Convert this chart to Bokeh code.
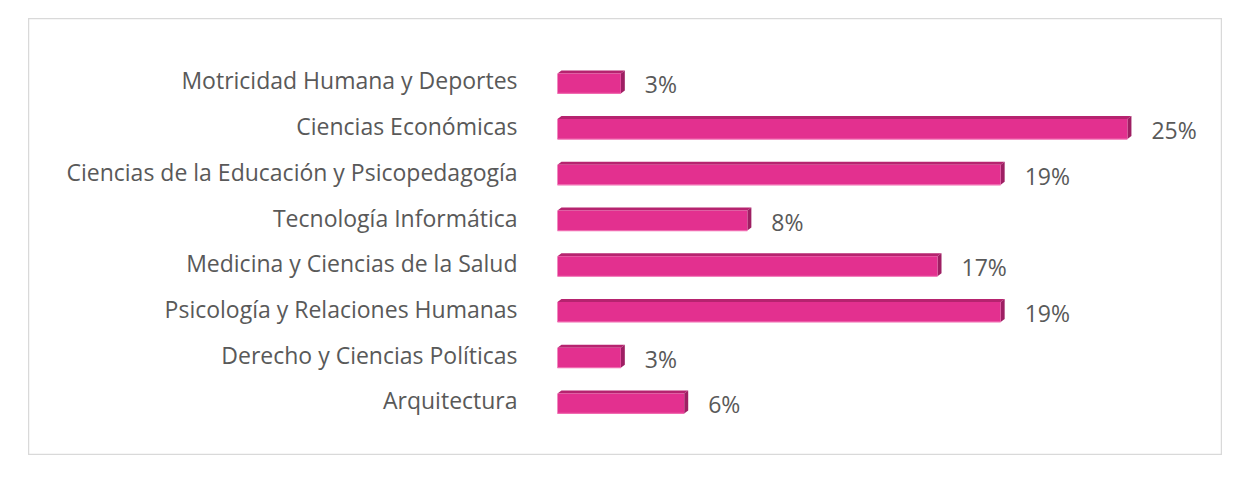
from bokeh.plotting import figure
from bokeh.models import Range1d, ColumnDataSource
from bokeh.core.properties import value
from bokeh.embed import file_html
from bokeh.resources import INLINE

# Data (bottom to top)
categories = ["Arquitectura", "Derecho y Ciencias Políticas", "Psicología y Relaciones Humanas",
              "Medicina y Ciencias de la Salud", "Tecnología Informática",
              "Ciencias de la Educación y Psicopedagogía", "Ciencias Económicas",
              "Motricidad Humana y Deportes"]
values = [5.56, 2.78, 19.44, 16.67, 8.33, 19.44, 25.0, 2.78]
value_labels = ["6%", "3%", "19%", "17%", "8%", "19%", "25%", "3%"]

FONT = "Open Sans"
TXT = "#595959"
FRONT = "#E3308F"
TOP = "#B6236F"
SIDE = "#9E1F63"
EDGE = "#F06AB0"

W, H = 1194, 437
x0, x1 = -23.2, 29.17
y0, y1 = -1.14, 8.42
pxx = W / (x1 - x0)
pxy = H / (y1 - y0)
dx = 4 / pxx
dy = 3 / pxy
bh = 20 / pxy

p = figure(width=W, height=H, output_backend="svg", toolbar_location=None,
           x_range=Range1d(x0, x1), y_range=Range1d(y0, y1),
           min_border=0, min_border_left=0, min_border_right=0,
           min_border_top=0, min_border_bottom=0)
p.margin = (18, 0, 0, 28)
p.xaxis.visible = False
p.yaxis.visible = False
p.grid.visible = False
p.outline_line_color = "#D9D9D9"
p.outline_line_width = 1.5
p.background_fill_color = "white"
p.border_fill_color = "white"

ys = list(range(len(categories)))
src = ColumnDataSource(dict(y=ys, v=values, cat=categories, lab=value_labels,
                            zero=[0] * len(ys),
                            yb=[y - bh / 2 for y in ys]))

# top faces and side faces
top_xs, top_ys, side_xs, side_ys = [], [], [], []
for y, v in zip(ys, values):
    t = y + bh / 2
    b = y - bh / 2
    top_xs.append([0, v, v + dx, dx])
    top_ys.append([t, t, t + dy, t + dy])
    side_xs.append([v, v + dx, v + dx, v])
    side_ys.append([b, b + dy, t + dy, t])
p.patches(top_xs, top_ys, fill_color=TOP, line_color=None)
p.patches(side_xs, side_ys, fill_color=SIDE, line_color=None)
p.hbar(y="y", left="zero", right="v", height=bh, source=src,
       fill_color=FRONT, line_color=None)
p.segment(x0="zero", y0="yb", x1="v", y1="yb", source=src,
          line_color=EDGE, line_width=1.2)

p.text(x=-1.75, y="y", text="cat", source=src, text_align="right",
       text_baseline="middle", text_font=value(FONT), text_font_size="23px",
       text_color=TXT, y_offset=-3)
p.text(x="v", y="y", text="lab", source=src, text_align="left",
       text_baseline="middle", text_font=value(FONT), text_font_size="23px",
       text_color=TXT, x_offset=24, y_offset=1)

open("out.html", "w").write(file_html(p, INLINE))
